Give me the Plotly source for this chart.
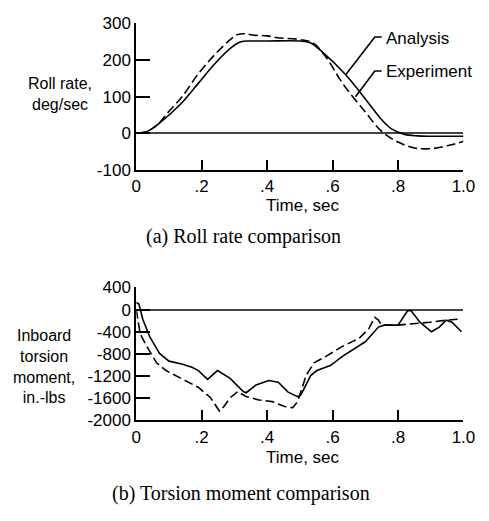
import plotly.graph_objects as go

# ---- (a) Roll rate comparison ----
roll_t_analysis = [0, 0.02, 0.04, 0.07, 0.10, 0.14, 0.19, 0.24, 0.29, 0.32, 0.35, 0.40, 0.50, 0.53, 0.57, 0.64, 0.70, 0.75, 0.78, 0.82, 0.86, 0.90, 1.0]
roll_analysis = [0, 2, 8, 27, 50, 84, 137, 190, 234, 250, 252, 252, 252, 248, 221, 160, 94, 37, 12, -3, -7, -8, -8]
roll_t_experiment = [0, 0.02, 0.04, 0.07, 0.10, 0.14, 0.19, 0.24, 0.29, 0.31, 0.33, 0.36, 0.40, 0.43, 0.50, 0.54, 0.58, 0.63, 0.70, 0.75, 0.80, 0.85, 0.90, 0.95, 1.0]
roll_experiment = [0, 2, 8, 28, 60, 100, 163, 215, 258, 270, 272, 268, 266, 261, 256, 247, 208, 137, 58, 5, -24, -40, -42, -34, -22]

# ---- (b) Torsion moment comparison ----
tor_t_analysis = [0, 0.008, 0.02, 0.041, 0.071, 0.10, 0.139, 0.17, 0.19, 0.218, 0.248, 0.287, 0.327, 0.336, 0.366, 0.405, 0.434, 0.464, 0.493, 0.503, 0.533, 0.552, 0.593, 0.631, 0.70, 0.74, 0.758, 0.80, 0.829, 0.84, 0.867, 0.902, 0.926, 0.947, 0.965, 0.994]
tor_analysis = [130, 100, -175, -490, -790, -930, -980, -1040, -1100, -1260, -1100, -1240, -1480, -1500, -1360, -1280, -1310, -1490, -1570, -1540, -1190, -1100, -1010, -840, -580, -315, -280, -280, -20, -20, -227, -400, -315, -190, -227, -400]
tor_t_experiment = [0, 0.012, 0.032, 0.062, 0.091, 0.139, 0.189, 0.227, 0.254, 0.268, 0.287, 0.31, 0.336, 0.375, 0.415, 0.454, 0.478, 0.493, 0.519, 0.543, 0.581, 0.631, 0.681, 0.71, 0.729, 0.74, 0.75, 0.80, 0.847, 0.897, 0.947, 0.994]
tor_experiment = [0, -440, -660, -960, -1100, -1240, -1400, -1590, -1830, -1750, -1590, -1480, -1570, -1630, -1660, -1750, -1770, -1660, -1190, -960, -840, -660, -520, -350, -140, -190, -280, -280, -260, -227, -190, -170]

x_tickvals = [0, 0.2, 0.4, 0.6, 0.8, 1.0]
x_ticktext = ["0", ".2", ".4", ".6", ".8", "1.0"]
roll_ticks = [-100, 0, 100, 200, 300]
roll_ticktext = ["-100", "0", "100", "200", "300"]
tor_ticks = [-2000, -1600, -1200, -800, -400, 0, 400]
tor_ticktext = ["-2000", "-1600", "-1200", "-800", "-400", "0", "400"]

W, H = 489, 521
SANS = "Liberation Sans, Arial, sans-serif"
SERIF = "Liberation Serif, Times New Roman, serif"

fig = go.Figure()
line_solid = dict(color="black", width=1.6)
line_dash = dict(color="black", width=1.6, dash="9px,4px")

fig.add_trace(go.Scatter(x=roll_t_analysis, y=roll_analysis, mode="lines", line=line_solid, xaxis="x", yaxis="y", line_shape="spline"))
fig.add_trace(go.Scatter(x=roll_t_experiment, y=roll_experiment, mode="lines", line=line_dash, xaxis="x", yaxis="y", line_shape="spline"))
fig.add_trace(go.Scatter(x=tor_t_analysis, y=tor_analysis, mode="lines", line=line_solid, xaxis="x2", yaxis="y2"))
fig.add_trace(go.Scatter(x=tor_t_experiment, y=tor_experiment, mode="lines", line=line_dash, xaxis="x2", yaxis="y2"))

font_sans = dict(family=SANS, size=17, color="black")
font_title = dict(family=SANS, size=16, color="black")
xd = [136 / W, 475 / W]
axis_common = dict(showline=True, linecolor="black", linewidth=2, ticks="inside", tickcolor="black",
                   tickwidth=2, showgrid=False, tickfont=font_sans, ticklabelstandoff=0)
xaxis_style = dict(axis_common, range=[0, 1.0], tickvals=x_tickvals, ticktext=x_ticktext, ticklen=10, zeroline=False)

fig.update_layout(
    width=W, height=H, margin=dict(l=0, r=0, t=0, b=0),
    paper_bgcolor="white", plot_bgcolor="white", showlegend=False,
    xaxis=dict(xaxis_style, domain=xd, anchor="y"),
    yaxis=dict(axis_common, domain=[1 - 167 / H, 1 - 15 / H], range=[-100, 300], tickvals=roll_ticks,
               ticktext=roll_ticktext, ticklen=14, zeroline=True, zerolinecolor="#444",
               zerolinewidth=1.5, anchor="x"),
    xaxis2=dict(xaxis_style, domain=xd, anchor="y2"),
    yaxis2=dict(axis_common, domain=[1 - 427 / H, 1 - 289 / H], range=[-2000, 400], tickvals=tor_ticks,
                ticktext=tor_ticktext, ticklen=14, zeroline=True, zerolinecolor="#444",
                zerolinewidth=1.5, anchor="x2"),
)

# Leader lines for labels (top chart, data coords)
fig.add_shape(type="path", path="M 0.75,263 L 0.729,263 L 0.64,160", xref="x", yref="y",
              line=dict(color="black", width=1.6))
fig.add_shape(type="path", path="M 0.75,170 L 0.729,170 L 0.67,100", xref="x", yref="y",
              line=dict(color="black", width=1.6))

ann = []
ann.append(dict(x=0.756, y=260, xref="x", yref="y", text="Analysis", showarrow=False, xanchor="left",
                yanchor="middle", font=font_sans))
ann.append(dict(x=0.756, y=168, xref="x", yref="y", text="Experiment", showarrow=False, xanchor="left",
                yanchor="middle", font=font_sans))
# Axis titles
ann.append(dict(x=57 / W, y=1 - 88 / H, xref="paper", yref="paper", text="Roll rate,<br>deg/sec",
                showarrow=False, xanchor="center", yanchor="middle", align="center", font=font_title))
ann.append(dict(x=40 / W, y=1 - 371 / H, xref="paper", yref="paper",
                text="Inboard<br>torsion<br>moment,<br>in.-lbs",
                showarrow=False, xanchor="center", yanchor="middle", align="center", font=font_title))
ann.append(dict(x=309 / W, y=1 - 204 / H, xref="paper", yref="paper", text="Time, sec", showarrow=False,
                xanchor="center", yanchor="middle", font=font_sans))
ann.append(dict(x=309 / W, y=1 - 465 / H, xref="paper", yref="paper", text="Time, sec", showarrow=False,
                xanchor="center", yanchor="middle", font=font_sans))
# Captions
ann.append(dict(x=247 / W, y=1 - 236 / H, xref="paper", yref="paper", text="(a) Roll rate comparison",
                showarrow=False, xanchor="center", yanchor="middle", font=dict(family=SERIF, size=20, color="black")))
ann.append(dict(x=244 / W, y=1 - 503 / H, xref="paper", yref="paper", text="(b) Torsion moment comparison",
                showarrow=False, xanchor="center", yanchor="middle", font=dict(family=SERIF, size=20, color="black")))
fig.update_layout(annotations=ann)

fig.write_html("out.html")
